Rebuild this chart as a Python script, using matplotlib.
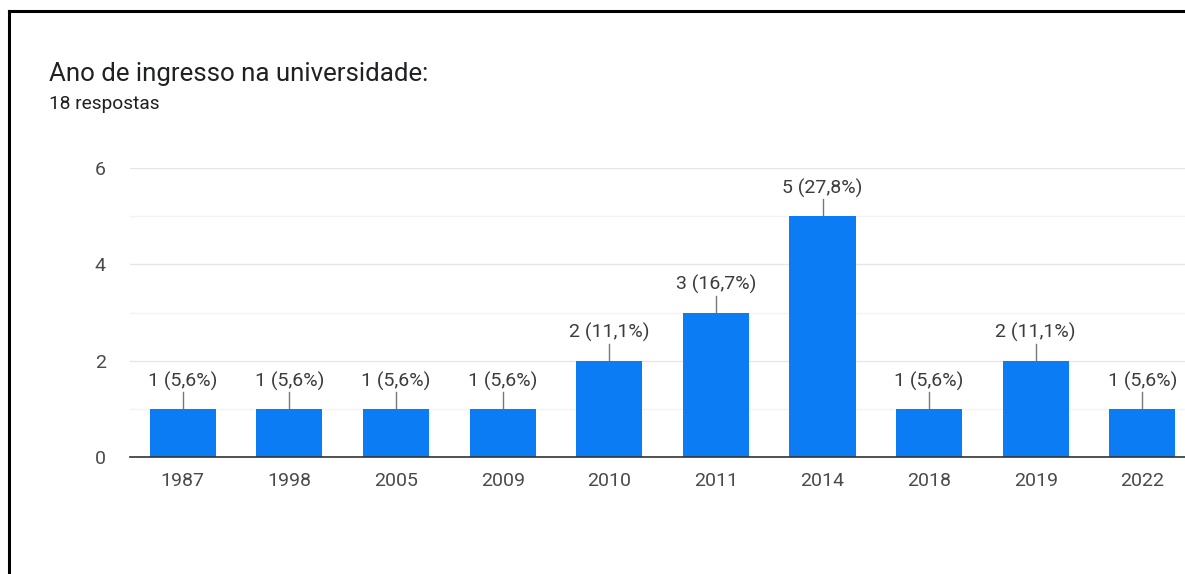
import matplotlib.pyplot as plt
from matplotlib.lines import Line2D

plt.rcParams['font.family'] = ['Roboto', 'DejaVu Sans']

# dados
anos = ['1987', '1998', '2005', '2009', '2010', '2011', '2014', '2018', '2019', '2022']
respostas = [1, 1, 1, 1, 2, 3, 5, 1, 2, 1]
percentuais = ['5,6', '5,6', '5,6', '5,6', '11,1', '16,7', '27,8', '5,6', '11,1', '5,6']
total = 18

fig = plt.figure(figsize=(11.85, 5.74), dpi=100)
ax = fig.add_axes([129.5 / 1185, 1 - 457 / 574, (1185 - 129.5) / 1185, 289 / 574])

x = range(len(anos))
ax.bar(x, respostas, width=0.62, color='#0c7cf4', zorder=3)

for i, (v, p) in enumerate(zip(respostas, percentuais)):
    ax.plot([i, i], [v, v + 0.35], color='#777777', lw=1, zorder=2)
    ax.text(i, v + 0.38, f'{v} ({p}%)', ha='center', va='bottom',
            fontsize=14, color='#3c3c3c')

ax.set_ylim(0, 6)
ax.set_xlim(-0.5, 9.4)
ax.set_yticks([0, 2, 4, 6])
ax.set_yticks([1, 3, 5], minor=True)
ax.grid(axis='y', which='major', color='#e6e6e6', lw=1, zorder=0)
ax.grid(axis='y', which='minor', color='#f3f3f3', lw=1, zorder=0)
ax.set_xticks(list(x))
ax.set_xticklabels(anos)
ax.tick_params(axis='both', which='both', length=0, labelsize=14, labelcolor='#4a4a4a')
ax.tick_params(axis='y', pad=17)
ax.tick_params(axis='x', pad=11)
for s in ['top', 'right', 'left']:
    ax.spines[s].set_visible(False)
ax.spines['bottom'].set_color('#333333')
ax.spines['bottom'].set_linewidth(1.2)
ax.spines['bottom'].set_zorder(4)

fig.text(49 / 1185, 1 - 74 / 574, 'Ano de ingresso na universidade:',
         fontsize=18.6, color='#202124', va='center', ha='left')
fig.text(49 / 1185, 1 - 104 / 574, f'{total} respostas',
         fontsize=13.8, color='#202124', va='center', ha='left')

# moldura preta (esquerda e topo)
fig.add_artist(Line2D([9 / 1185, 9 / 1185], [0, 1 - 11 / 574], color='black', lw=2.2,
                      transform=fig.transFigure))
fig.add_artist(Line2D([9 / 1185, 1], [1 - 11 / 574, 1 - 11 / 574], color='black', lw=2.2,
                      transform=fig.transFigure))

fig.savefig('out.png', dpi=100)
